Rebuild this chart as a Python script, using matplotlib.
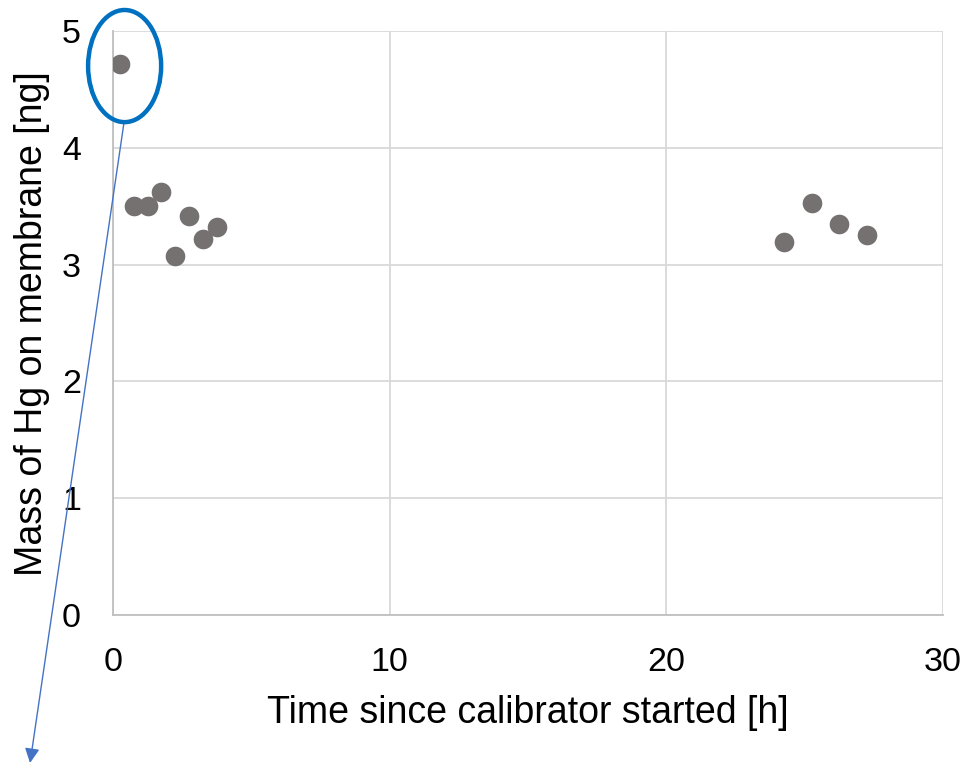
import matplotlib
matplotlib.use("Agg")
import matplotlib.pyplot as plt
from matplotlib.patches import Ellipse

plt.rcParams['font.family'] = ['Liberation Sans', 'DejaVu Sans']

# data
time_h = [0.25, 0.75, 1.25, 1.75, 2.25, 2.75, 3.25, 3.75,
          24.25, 25.25, 26.25, 27.25]
mass_ng = [4.72, 3.50, 3.50, 3.62, 3.07, 3.42, 3.22, 3.32,
           3.19, 3.53, 3.35, 3.25]
x_ticks = [0, 10, 20, 30]
y_ticks = [0, 1, 2, 3, 4, 5]

fig = plt.figure(figsize=(9.69, 7.66), dpi=100)
ax = fig.add_axes([0.1166, 0.1971, 0.8566, 0.7624])

ax.scatter(time_h, mass_ng, s=200, color='#767171', zorder=3, linewidths=0)

ax.set_xlim(0, 30)
ax.set_ylim(0, 5)
ax.set_xticks(x_ticks)
ax.set_yticks(y_ticks)
ax.grid(True, color='#D9D9D9', linewidth=1.3)
ax.set_axisbelow(True)
for side in ['top', 'right']:
    ax.spines[side].set_visible(False)
for side in ['left', 'bottom']:
    ax.spines[side].set_color('#BFBFBF')
    ax.spines[side].set_linewidth(1.3)
ax.tick_params(axis='both', length=0, labelsize=24.5)
ax.tick_params(axis='y', pad=23)
ax.tick_params(axis='x', pad=23)

ax.set_xlabel('Time since calibrator started [h]', fontsize=27)
ax.set_ylabel('Mass of Hg on membrane [ng]', fontsize=27)
ax.xaxis.set_label_coords(0.5, -0.168)
ax.xaxis.label.set_va('center')
ax.yaxis.set_label_coords(-0.0975, 0.499)
ax.yaxis.label.set_va('center')

# highlight first point
ell = Ellipse((time_h[0] + 0.17, mass_ng[0] - 0.02), width=2.64, height=0.96,
              fill=False, edgecolor='#0070C0', linewidth=3.2, clip_on=False, zorder=4)
ax.add_patch(ell)
ax.annotate('', xy=(0.031, 0.004), xycoords='figure fraction',
            xytext=(time_h[0] + 0.15, mass_ng[0] - 0.5), textcoords='data',
            arrowprops=dict(arrowstyle='-|>', color='#4472C4', lw=1.0,
                            mutation_scale=22, shrinkA=0, shrinkB=0),
            annotation_clip=False)

fig.savefig('out.png', dpi=100)
